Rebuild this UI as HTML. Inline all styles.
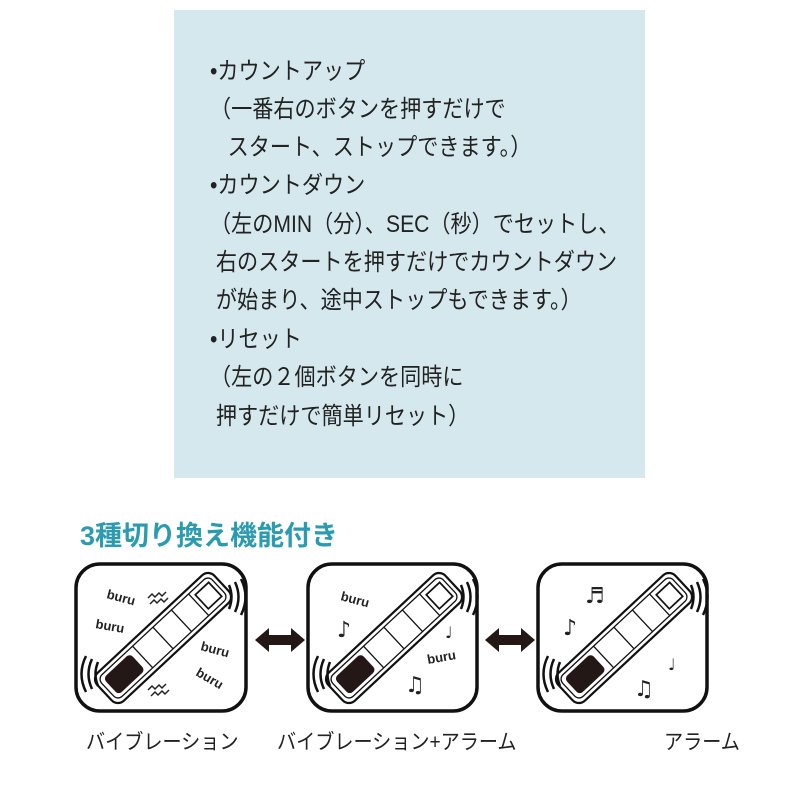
<!DOCTYPE html>
<html><head><meta charset="utf-8"><style>
body{margin:0;width:800px;height:800px;background:#fff;position:relative;overflow:hidden;font-family:"Liberation Sans","Noto Sans CJK JP",sans-serif}
.box{position:absolute;left:174px;top:10px;width:471px;height:468px;background:#d5e8ee}
.t{position:absolute;left:210px;font-size:24px;color:#222;white-space:nowrap;line-height:1;transform:scaleX(0.88);transform-origin:0 0}
h2{position:absolute;left:80px;top:514px;margin:0;font-size:27px;color:#2a9bb0;font-weight:bold}
.lb{position:absolute;top:726px;font-size:21px;color:#222;white-space:nowrap;transform:scaleX(0.91);transform-origin:0 0}
</style></head><body>
<div class="box"></div>
<div class="t" style="top:60px">•カウントアップ</div>
<div class="t" style="top:98px">（一番右のボタンを押すだけで</div>
<div class="t" style="top:136px">&nbsp;&nbsp;&nbsp;スタート、ストップできます。）</div>
<div class="t" style="top:174px">•カウントダウン</div>
<div class="t" style="top:213px">（左のMIN（分）、SEC（秒）でセットし、</div>
<div class="t" style="top:251px">&nbsp;右のスタートを押すだけでカウントダウン</div>
<div class="t" style="top:289px">&nbsp;が始まり、途中ストップもできます。）</div>
<div class="t" style="top:328px">•リセット</div>
<div class="t" style="top:366px">（左の２個ボタンを同時に</div>
<div class="t" style="top:405px">&nbsp;押すだけで簡単リセット）</div>
<h2>3種切り換え機能付き</h2>
<svg width="800" height="800" style="position:absolute;left:0;top:0">
<defs>
<g id="dev">
<rect x="-92" y="-22" width="184" height="44" rx="10" fill="#fff" stroke="#111" stroke-width="2.5"/>
<rect x="-87" y="-17" width="174" height="34" rx="7" fill="none" stroke="#111" stroke-width="1.5"/>
<rect x="-82" y="-13" width="42" height="26" rx="5" fill="#231815"/>
<line x1="-32" y1="-17" x2="-32" y2="17" stroke="#111" stroke-width="1.5"/>
<line x1="0" y1="-17" x2="0" y2="17" stroke="#111" stroke-width="1.5"/>
<line x1="29" y1="-17" x2="29" y2="17" stroke="#111" stroke-width="1.5"/>
<line x1="56" y1="-17" x2="56" y2="17" stroke="#111" stroke-width="1.5"/>
<rect x="61" y="-11" width="21" height="22" fill="none" stroke="#111" stroke-width="2"/>
</g>
<g id="arcs" fill="none" stroke="#111" stroke-width="2.5">
<path d="M71,25 q5,12 0,24 M77,22 q7,15 0,30 M83,19 q9,18 0,36"/>
<path d="M-60,102 q-5,12 0,24 M-66,99 q-7,15 0,30 M-72,96 q-9,18 0,36"/>
</g>
<path id="arr" d="M0,0 l14,-12 v7 h22 v-7 l14,12 l-14,12 v-7 h-22 v7 z" fill="#231815"/>
</defs>
<g fill="none" stroke="#111" stroke-width="3.5">
<rect x="76" y="564" width="170" height="147" rx="24"/>
<rect x="308" y="564" width="169" height="147" rx="24"/>
<rect x="538" y="564" width="169" height="147" rx="24"/>
</g>
<use href="#dev" transform="translate(163,638) rotate(-43) scale(0.87)"/>
<use href="#dev" transform="translate(394,638) rotate(-43) scale(0.87)"/>
<use href="#dev" transform="translate(624,638) rotate(-43) scale(0.87)"/>
<use href="#arcs" transform="translate(158,560)"/>
<use href="#arcs" transform="translate(390,560)"/>
<use href="#arcs" transform="translate(620,560)"/>
<use href="#arr" transform="translate(255,640)"/>
<use href="#arr" transform="translate(485,640)"/>
<g font-family="Liberation Sans,sans-serif" font-weight="bold" font-size="13" fill="#222">
<text x="106" y="598" transform="rotate(15 106 598)">buru</text>
<text x="95" y="628" transform="rotate(10 95 628)">buru</text>
<text x="200" y="650" transform="rotate(15 200 650)">buru</text>
<text x="195" y="675" transform="rotate(30 195 675)">buru</text>
<text x="340" y="600" transform="rotate(15 340 600)">buru</text>
<text x="428" y="664" transform="rotate(-10 428 664)">buru</text>
</g>
<g font-family="DejaVu Sans,sans-serif" font-size="22" fill="#222">
<text x="337" y="637">♪</text><text x="405" y="692">♫</text><text x="445" y="638" font-size="16">♩</text>
<text x="585" y="603">♬</text><text x="563" y="635">♪</text><text x="668" y="670" font-size="16">♩</text><text x="634" y="696">♫</text>
</g>
<path d="M148,598 l4,-4 l3,3 l4,-4 l3,3 l4,-4 M150,604 l4,-4 l3,3 l4,-4 l3,3 l4,-4 M148,690 l4,-4 l3,3 l4,-4 l3,3 l4,-4 M151,696 l4,-4 l3,3 l4,-4 l3,3 l4,-4" fill="none" stroke="#222" stroke-width="1.5"/>
</svg>
<div class="lb" style="left:86px">バイブレーション</div>
<div class="lb" style="left:277px">バイブレーション+アラーム</div>
<div class="lb" style="left:664px">アラーム</div>
</body></html>
